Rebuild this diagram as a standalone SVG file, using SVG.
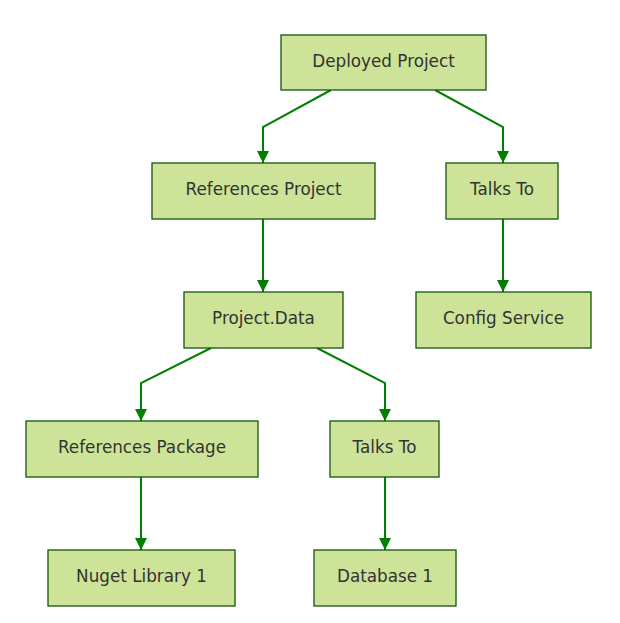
<svg xmlns="http://www.w3.org/2000/svg" width="620" height="623" viewBox="0 0 620 623">
<defs>
<style>
.node rect{fill:#cde498;stroke:#13540c;stroke-width:1.3}
.node text{font-family:"DejaVu Sans","Liberation Sans",sans-serif;font-size:16.8px;fill:#333;text-anchor:middle;dominant-baseline:central}
.edge{fill:none;stroke:#008000;stroke-width:2}
</style>
<marker id="arrow" markerUnits="userSpaceOnUse" markerWidth="12" markerHeight="12" viewBox="0 0 12 12" refX="12" refY="6" orient="auto">
<path d="M0,0 L12,6 L0,12 z" fill="#008000"/>
</marker>
</defs>
<rect width="620" height="623" fill="#ffffff"/>
<g id="edges">
<polyline class="edge" points="331,90 263,127 263,163" marker-end="url(#arrow)"/>
<polyline class="edge" points="435,90 503,127 503,163" marker-end="url(#arrow)"/>
<polyline class="edge" points="263,219 263,292" marker-end="url(#arrow)"/>
<polyline class="edge" points="503,219 503,292" marker-end="url(#arrow)"/>
<polyline class="edge" points="211,348 141,383 141,421" marker-end="url(#arrow)"/>
<polyline class="edge" points="317,348 385,383 385,421" marker-end="url(#arrow)"/>
<polyline class="edge" points="141,477 141,550" marker-end="url(#arrow)"/>
<polyline class="edge" points="385,477 385,550" marker-end="url(#arrow)"/>
</g>
<g id="deployed" class="node"><rect x="281" y="35" width="205" height="55"/><text x="383.5" y="61">Deployed Project</text></g>
<g id="refproject" class="node"><rect x="152" y="163" width="223" height="56"/><text x="263.5" y="189">References Project</text></g>
<g id="talks1" class="node"><rect x="446" y="163" width="112" height="56"/><text x="502" y="189">Talks To</text></g>
<g id="config" class="node"><rect x="416" y="292" width="175" height="56"/><text x="503.5" y="318">Config Service</text></g>
<g id="projdata" class="node"><rect x="184" y="292" width="159" height="56"/><text x="263.5" y="318">Project.Data</text></g>
<g id="refpackage" class="node"><rect x="26" y="421" width="232" height="56"/><text x="142" y="447">References Package</text></g>
<g id="talks2" class="node"><rect x="330" y="421" width="109" height="56"/><text x="384.5" y="447">Talks To</text></g>
<g id="nuget" class="node"><rect x="48" y="550" width="187" height="56"/><text x="141.5" y="576">Nuget Library 1</text></g>
<g id="database" class="node"><rect x="314" y="550" width="142" height="56"/><text x="385" y="576">Database 1</text></g>
</svg>
